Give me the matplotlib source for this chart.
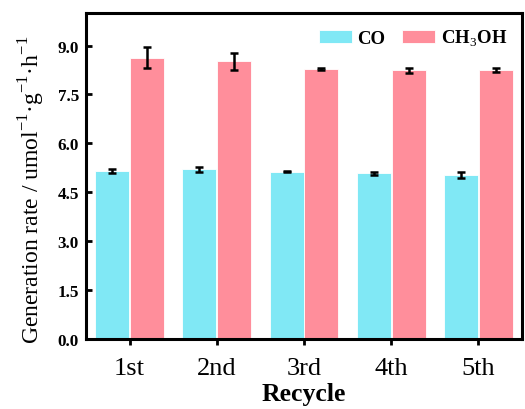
import matplotlib
matplotlib.use("Agg")
import matplotlib.pyplot as plt
import numpy as np

plt.rcParams['font.family'] = ['Liberation Serif', 'DejaVu Serif']
plt.rcParams['mathtext.fontset'] = 'custom'
plt.rcParams['mathtext.rm'] = 'Liberation Serif'
plt.rcParams['mathtext.bf'] = 'Liberation Serif:bold'

cycles = ["1st", "2nd", "3rd", "4th", "5th"]
co_rate = [5.15, 5.20, 5.13, 5.08, 5.03]
co_err = [0.06, 0.08, 0.01, 0.05, 0.09]
meoh_rate = [8.63, 8.52, 8.29, 8.24, 8.25]
meoh_err = [0.33, 0.26, 0.03, 0.07, 0.05]
yticks = [0.0, 1.5, 3.0, 4.5, 6.0, 7.5, 9.0]

fig = plt.figure(figsize=(5.25, 4.1), dpi=100)
ax = fig.add_axes([0.1638, 0.1707, 0.8305, 0.7952])

x = np.arange(len(cycles))
w = 0.39
err_kw = dict(ecolor='black', elinewidth=1.8, capsize=3.2, capthick=1.8)
ax.bar(x - 0.2, co_rate, w, yerr=co_err, color='#80E8F5', edgecolor='white',
       linewidth=0.6, label='CO', error_kw=err_kw)
ax.bar(x + 0.2, meoh_rate, w, yerr=meoh_err, color='#FF8E9B', edgecolor='white',
       linewidth=0.6, label='CH$_3$OH', error_kw=err_kw)

ax.set_xlim(-0.5, 4.5)
ax.set_ylim(0, 10)
ax.set_xticks(x)
ax.set_xticklabels(cycles, fontsize=19)
ax.set_yticks(yticks)
ax.set_yticklabels([f"{v:.1f}" for v in yticks], fontsize=12.3, fontweight='bold')

ax.tick_params(axis='y', direction='in', length=4, width=2, pad=5)
ax.tick_params(axis='x', direction='out', length=4, width=2, pad=9)
for s in ax.spines.values():
    s.set_linewidth(2.2)

ax.set_ylabel("Generation rate / umol$^{-1}$·g$^{-1}$·h$^{-1}$", fontsize=17)
ax.yaxis.set_label_coords(-0.09, 0.46)
ax.set_xlabel("Recycle", fontsize=18.5, fontweight='bold', labelpad=2)

ax.legend(loc='upper right', ncol=2, frameon=False, prop={'weight': 'bold', 'size': 13.5},
          handlelength=1.75, handleheight=0.7, columnspacing=0.9, handletextpad=0.3,
          borderaxespad=0.4)

fig.savefig("out.png", dpi=100)
